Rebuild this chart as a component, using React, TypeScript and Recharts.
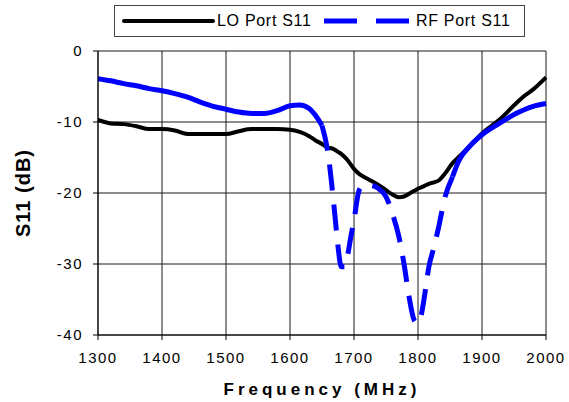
import { CartesianGrid, Label, Legend, Line, LineChart, XAxis, YAxis } from 'recharts';

const freqMHz = [
  1300, 1320, 1340, 1360, 1380, 1400, 1420, 1440, 1460, 1480, 1500, 1520, 1540, 1560, 1580, 1600,
  1615, 1630, 1640, 1650, 1655, 1660, 1665, 1670, 1675, 1680, 1685, 1690, 1695, 1700, 1708, 1715,
  1725, 1737, 1750, 1760, 1770, 1778, 1786, 1794, 1800, 1805, 1810, 1817, 1825, 1833, 1841, 1854,
  1864, 1880, 1900, 1927, 1953, 1965, 1980, 2000,
];

const loPortS11 = [
  -9.7, -10.2, -10.3, -10.6, -11.0, -11.0, -11.2, -11.7, -11.7, -11.7, -11.7, -11.3, -11.0, -11.0, -11.0, -11.1,
  -11.4, -12.0, -12.6, -13.1, -13.4, -13.6, -13.7, -13.9, -14.2, -14.5, -14.9, -15.4, -16.0, -16.6, -17.3, -17.7,
  -18.2, -18.8, -19.6, -20.2, -20.6, -20.5, -20.1, -19.7, -19.4, -19.2, -19.0, -18.7, -18.5, -18.2, -17.4, -15.8,
  -14.9, -13.5, -11.6, -9.7, -7.4, -6.4, -5.4, -3.7,
];

const rfPortS11 = [
  -3.9, -4.2, -4.6, -4.9, -5.3, -5.6, -6.0, -6.5, -7.2, -7.8, -8.2, -8.6, -8.8, -8.8, -8.4, -7.7,
  -7.6, -8.1, -9.1, -10.5, -12.3, -14.8, -18.6, -23.0, -27.5, -30.4, -30.4, -28.8, -26.2, -23.8, -19.6, -18.9,
  -18.9, -19.3, -20.5, -22.9, -26.1, -29.9, -34.6, -37.9, -38.4, -37.2, -34.6, -30.4, -27.6, -24.5, -21.0, -17.7,
  -15.4, -13.5, -11.8, -10.2, -8.8, -8.3, -7.8, -7.4,
];

const xTicks = [1300, 1400, 1500, 1600, 1700, 1800, 1900, 2000];
const yTicks = [-40, -30, -20, -10, 0];

// Excel draws the RF trace dashed only where the points are far apart
const dashFrom = 1650;
const dashTo = 1854;

const data = freqMHz.map((freq, i) => ({
  freq,
  lo: loPortS11[i],
  rfSolid: freq <= dashFrom || freq >= dashTo ? rfPortS11[i] : null,
  rfDash: freq >= dashFrom && freq <= dashTo ? rfPortS11[i] : null,
}));

const fontFamily = '"Liberation Sans", Arial, sans-serif';
const tickStyle = { fontSize: 15, fill: '#000', fontFamily, letterSpacing: 1.5 };

const ChartLegend = () => (
  <div
    style={{
      position: 'relative',
      width: 411,
      height: 32,
      boxSizing: 'border-box',
      border: '1px solid #444',
      background: '#fff',
      fontFamily,
      fontSize: 16,
      letterSpacing: 0.7,
      color: '#000',
    }}
  >
    <svg width={95} height={12} style={{ position: 'absolute', left: 6, top: 9 }}>
      <line x1={3} y1={6} x2={92} y2={6} stroke="#000" strokeWidth={4} strokeLinecap="round" />
    </svg>
    <span style={{ position: 'absolute', left: 102, top: 6, lineHeight: '18px' }}>LO Port S11</span>
    <svg width={86} height={12} style={{ position: 'absolute', left: 208, top: 9 }}>
      <line x1={1} y1={6} x2={86} y2={6} stroke="#0000ff" strokeWidth={5} strokeDasharray="33 19" />
    </svg>
    <span style={{ position: 'absolute', left: 301, top: 6, lineHeight: '18px' }}>RF Port S11</span>
  </div>
);

const YTitle = () => (
  <text
    x={30}
    y={193}
    transform="rotate(-90 30 193)"
    textAnchor="middle"
    style={{ fontSize: 20, fontWeight: 'bold', fontFamily, letterSpacing: 1 }}
    fill="#000"
  >
    S11 (dB)
  </text>
);

export default function App() {
  return (
    <div style={{ position: 'absolute', left: 0, top: 0, background: '#fff' }}>
      <LineChart width={569} height={402} data={data} margin={{ top: 51, right: 23, bottom: 0, left: 0 }}>
        <CartesianGrid stroke="#1a1a1a" strokeWidth={1} />
        <XAxis
          dataKey="freq"
          type="number"
          domain={[1300, 2000]}
          ticks={xTicks}
          height={67}
          tickSize={5}
          tickMargin={12}
          tick={tickStyle}
          stroke="#000"
          interval={0}
        >
          <Label
            value="Frequency (MHz)"
            position="insideBottom"
            offset={7}
            style={{ fontSize: 17, fontWeight: 'bold', fontFamily, letterSpacing: 4, fill: '#000' }}
          />
        </XAxis>
        <YAxis
          type="number"
          domain={[-40, 0]}
          ticks={yTicks}
          width={98}
          tickSize={5}
          tickMargin={10}
          tick={tickStyle}
          stroke="#000"
          interval={0}
        >
          <Label content={() => <YTitle />} />
        </YAxis>
        <Legend
          layout="horizontal"
          verticalAlign="middle"
          align="center"
          content={() => <ChartLegend />}
          wrapperStyle={{ position: 'absolute', left: 114, top: 5, width: 411, height: 32 }}
        />
        <Line
          type="monotone"
          dataKey="lo"
          name="LO Port S11"
          stroke="#000"
          strokeWidth={4}
          dot={false}
          isAnimationActive={false}
        />
        <Line
          type="monotone"
          dataKey="rfSolid"
          name="RF Port S11"
          stroke="#0000ff"
          strokeWidth={5}
          dot={false}
          isAnimationActive={false}
        />
        <Line
          type="monotone"
          dataKey="rfDash"
          name="RF Port S11"
          stroke="#0000ff"
          strokeWidth={5}
          strokeDasharray="26 14"
          dot={false}
          legendType="none"
          isAnimationActive={false}
        />
      </LineChart>
    </div>
  );
}
